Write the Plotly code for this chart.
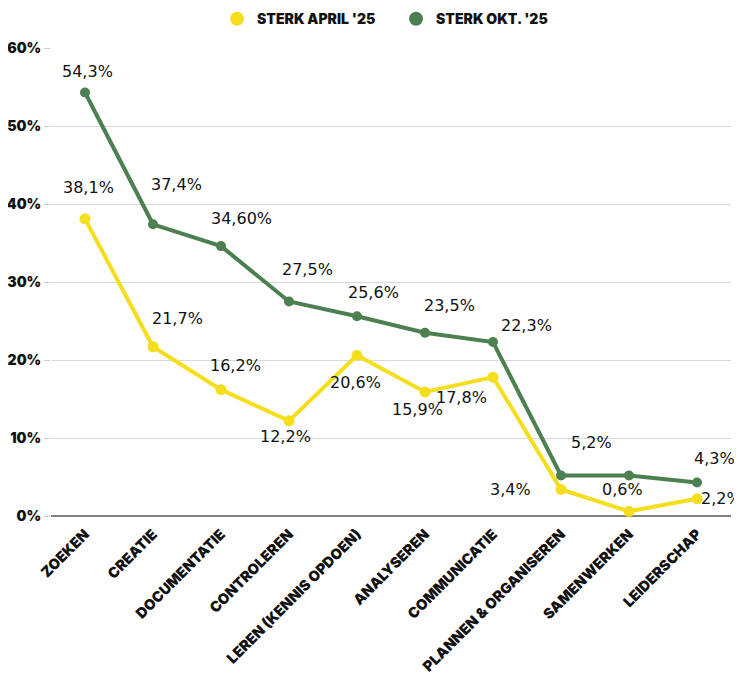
import plotly.graph_objects as go

categories = ["ZOEKEN", "CREATIE", "DOCUMENTATIE", "CONTROLEREN", "LEREN (KENNIS OPDOEN)",
              "ANALYSEREN", "COMMUNICATIE", "PLANNEN & ORGANISEREN", "SAMENWERKEN", "LEIDERSCHAP"]
april = [38.1, 21.7, 16.2, 12.2, 20.6, 15.9, 17.8, 3.4, 0.6, 2.2]
okt = [54.3, 37.4, 34.6, 27.5, 25.6, 23.5, 22.3, 5.2, 5.2, 4.3]
april_labels = ["38,1%", "21,7%", "16,2%", "12,2%", "20,6%", "15,9%", "17,8%", "3,4%", "0,6%", "2,2%"]
okt_labels = ["54,3%", "37,4%", "34,60%", "27,5%", "25,6%", "23,5%", "22,3%", "5,2%", "", "4,3%"]
yticks = [0, 10, 20, 30, 40, 50, 60]
ytick_text = ["0%", "10%", "20%", "30%", "40%", "50%", "60%"]

# label offsets in pixels (dx, dy) relative to each point — styling only
april_dx = [3, 24, 14, -4, -2, -8, -32, -51, -7, 24]
april_dy = [31, 28, 24, -16, -27, -18, -20, 0, 22, 0]
okt_dx = [2, 23, 20, 18, 16, 24, 33, 30, 0, 17]
okt_dy = [21, 40, 28, 32, 24, 27, 17, 33, 0, 24]

YELLOW = "#F4DE1E"
GREEN = "#4C8050"
label_font = dict(family="DejaVu Sans", size=16, color="#111111")
bold_font = dict(family="Inter", size=14.5, color="#111111", weight=900)
ytick_font = dict(family="Inter", size=14, color="#111111", weight=900)

fig = go.Figure()
fig.add_trace(go.Scatter(
    x=categories, y=april, name="STERK APRIL '25", mode="lines+markers",
    line=dict(color=YELLOW, width=4), marker=dict(color=YELLOW, size=11),
    cliponaxis=False, showlegend=False))
fig.add_trace(go.Scatter(
    x=categories, y=okt, name="STERK OKT. '25", mode="lines+markers",
    line=dict(color=GREEN, width=4), marker=dict(color=GREEN, size=10),
    cliponaxis=False, showlegend=False))
# legend-only marker entries
fig.add_trace(go.Scatter(x=[None], y=[None], mode="markers", name="STERK APRIL '25",
                         marker=dict(color=YELLOW, size=14)))
fig.add_trace(go.Scatter(x=[None], y=[None], mode="markers", name="STERK OKT. '25",
                         marker=dict(color=GREEN, size=14)))

annotations = []
for cat, val, lab, dx, dy in zip(categories, april, april_labels, april_dx, april_dy):
    if lab:
        annotations.append(dict(x=cat, y=val, text=lab, showarrow=False, xshift=dx, yshift=dy,
                                xanchor="center", yanchor="middle", font=label_font))
for cat, val, lab, dx, dy in zip(categories, okt, okt_labels, okt_dx, okt_dy):
    if lab:
        annotations.append(dict(x=cat, y=val, text=lab, showarrow=False, xshift=dx, yshift=dy,
                                xanchor="center", yanchor="middle", font=label_font))

fig.update_layout(
    width=742, height=678,
    margin=dict(l=43, r=19, t=40, b=170),
    plot_bgcolor="white", paper_bgcolor="white",
    annotations=annotations,
    legend=dict(orientation="h", x=0.2817, xanchor="left", xref="container",
                y=0.9835, yanchor="middle", yref="container",
                font=dict(family="Inter", size=14, color="#111111", weight=900),
                traceorder="normal", itemwidth=30, entrywidth=134),
    xaxis=dict(tickangle=-45, tickfont=bold_font, showgrid=False, showline=False,
               zeroline=False, ticks="", range=[-0.5, 9.5], automargin=False,
               ticklabelstandoff=6),
    yaxis=dict(range=[0, 60], tickvals=yticks, ticktext=ytick_text, tickfont=ytick_font,
               showgrid=True, gridcolor="#d9d9d9", gridwidth=1, zeroline=True,
               zerolinecolor="#808080", zerolinewidth=1.5, ticks="outside", ticklen=6,
               tickcolor="#cccccc", automargin=False),
)
fig.write_html("out.html")
